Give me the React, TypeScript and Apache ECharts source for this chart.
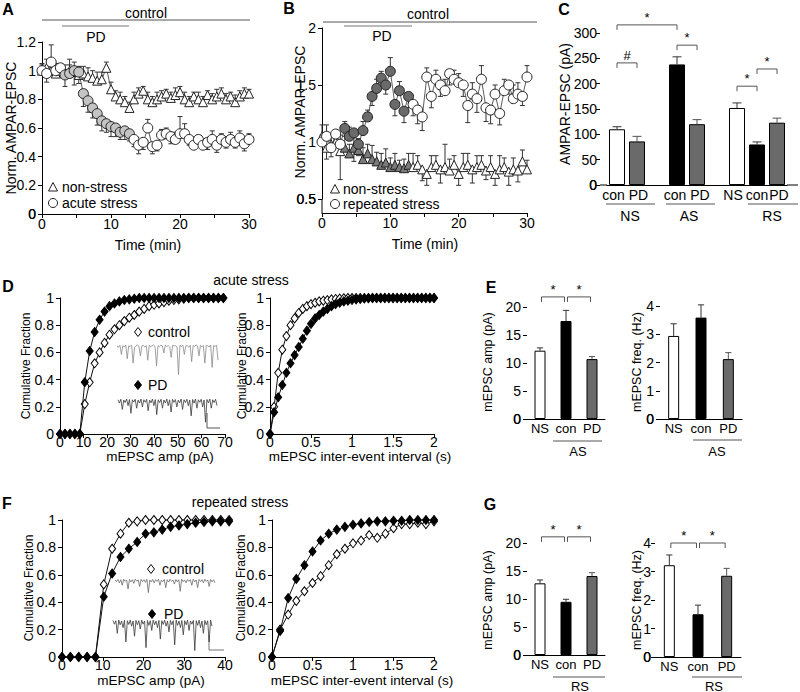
import React, { useEffect, useRef } from "react";
import * as echarts from "echarts";

const FONT = "'Liberation Sans', Arial, Helvetica, sans-serif";

// ---------- Panel A / B : time courses ----------
const timeMin = [0,0.67,1.33,2,2.67,3.33,4,4.67,5.33,6,6.67,7.33,8,8.67,9.33,10,10.67,11.33,12,12.67,13.33,14,14.67,15.33,16,16.67,17.33,18,18.67,19.33,20,20.67,21.33,22,22.67,23.33,24,24.67,25.33,26,26.67,27.33,28,28.67,29.33,30];
const pdWindow = [3, 12.8];

const aNonStress = [1.0,1.02,1.0,0.98,1.0,0.98,1.0,0.99,0.97,0.98,0.96,0.95,0.93,0.94,1.02,0.87,0.82,0.8,0.78,0.74,0.8,0.84,0.86,0.8,0.78,0.8,0.82,0.84,0.81,0.83,0.85,0.8,0.78,0.82,0.8,0.78,0.83,0.8,0.82,0.84,0.8,0.82,0.78,0.82,0.84,0.84];
const aNonStressErr = [0.04,0.06,0.05,0.04,0.05,0.06,0.08,0.07,0.06,0.05,0.06,0.05,0.06,0.05,0.04,0.05,0.04,0.05,0.04,0.04,0.05,0.04,0.03,0.05,0.04,0.05,0.04,0.03,0.04,0.05,0.04,0.05,0.04,0.03,0.05,0.04,0.03,0.04,0.05,0.04,0.04,0.03,0.05,0.04,0.04,0.03];
const aAcute = [1.0,0.98,1.06,1.0,1.02,0.97,0.98,1.0,0.99,0.84,0.79,0.74,0.7,0.65,0.63,0.61,0.6,0.57,0.58,0.56,0.52,0.48,0.5,0.6,0.47,0.48,0.55,0.56,0.54,0.52,0.56,0.56,0.52,0.48,0.52,0.48,0.5,0.52,0.48,0.52,0.5,0.52,0.5,0.53,0.49,0.52];
const aAcuteErr = [0.05,-0.06,0.12,0.05,-0.05,-0.08,0.06,-0.1,-0.08,-0.09,-0.08,-0.07,-0.08,-0.07,-0.06,-0.07,-0.06,-0.05,-0.06,-0.05,-0.05,-0.06,-0.05,0.06,-0.05,-0.04,0.04,0.04,-0.05,0.05,0.12,0.07,-0.04,0.05,-0.05,0.04,-0.05,0.06,-0.05,0.04,-0.04,0.05,-0.04,0.05,-0.05,0.04];

const bNonStress = [1.05,0.95,0.98,1.0,0.92,0.95,0.9,0.95,0.93,0.85,0.9,0.85,0.83,0.8,0.82,0.78,0.8,0.78,0.77,0.8,0.78,0.8,0.76,0.72,0.78,0.8,0.76,0.78,0.75,0.8,0.72,0.78,0.8,0.76,0.78,0.8,0.75,0.78,0.72,0.76,0.78,0.74,0.76,0.75,0.83,0.76];
const bNonStressErr = [0.1,-0.1,0.08,0.06,-0.25,0.1,0.08,-0.12,0.1,0.1,0.08,0.12,0.08,0.1,0.12,0.08,0.1,0.06,0.08,0.1,0.12,0.08,-0.1,-0.1,0.1,0.08,-0.12,0.2,0.1,0.08,-0.1,0.12,0.1,-0.12,0.1,0.08,-0.08,0.1,-0.1,0.12,0.08,-0.12,0.1,-0.1,0.1,0.08];
const bRepeated = [1.0,1.05,0.95,1.07,0.98,1.12,1.05,1.08,0.98,1.1,1.22,1.4,1.47,1.56,1.5,1.62,1.33,1.45,1.27,1.4,1.33,1.28,1.22,1.57,1.4,1.55,1.5,1.45,1.6,1.55,1.52,1.5,1.32,1.42,1.38,1.55,1.3,1.28,1.42,1.25,1.45,1.5,1.38,1.42,1.4,1.57];
const bRepeatedErr = [0.06,0.1,-0.08,-0.08,0.08,0.06,0.08,-0.1,-0.1,0.08,0.06,-0.08,0.08,0.06,-0.08,0.12,-0.1,0.08,-0.1,-0.1,-0.1,-0.12,-0.12,0.08,-0.1,0.08,-0.1,0.1,-0.1,0.08,0.08,-0.1,-0.15,0.1,-0.12,0.12,-0.12,-0.12,0.08,-0.1,0.1,-0.08,0.12,0.1,-0.08,0.1];

// ---------- Panel C ----------
const cCats = ["con", "PD", "", "con", "PD", "", "NS", "con", "PD"];
const cValues = [110, 86, null, 238, 120, null, 152, 80, 123];
const cErr = [5, 10, null, 15, 9, null, 10, 5, 9];
const cKinds = ["ns", "pd", "", "stress", "pd", "", "ns", "stress", "pd"];
const cBrackets = [[0, 3, 316], [0, 1, 241], [3, 4, 276], [6, 7, 195], [7, 8, 229]];
const cBracketLabels = ["*", "#", "*", "*", "*"];

// ---------- Panels E / G ----------
const egCats = ["NS", "con", "PD"];
const egKinds = ["ns", "stress", "pd"];
const eAmp = [12.2, 17.5, 10.7];
const eAmpErr = [0.5, 1.9, 0.45];
const eFreq = [2.94, 3.59, 2.12];
const eFreqErr = [0.43, 0.45, 0.23];
const gAmp = [12.8, 9.5, 14.1];
const gAmpErr = [0.6, 0.45, 0.6];
const gFreq = [3.22, 1.5, 2.85];
const gFreqErr = [0.36, 0.32, 0.26];
const eAmpBrackets = [[0, 1, 21.8], [1, 2, 21.8]];
const gAmpBrackets = [[0, 1, 21.1], [1, 2, 21.1]];
const gFreqBrackets = [[0, 1, 4.0], [1, 2, 4.0]];

// ---------- Panel D : cumulative (acute stress) ----------
const dAmp = [0,2.1,4.2,6.3,8.4,10.5,12.6,14.7,16.8,18.9,21,23.1,25.2,27.3,29.4,31.5,33.6,35.7,37.8,39.9,42,44.1,46.2,48.3,50.4,52.5,54.6,56.7,58.8,60.9,63,65.1,67.2,69.3];
const dAmpCtrl = [0,0,0,0,0,0.22,0.38,0.52,0.6,0.67,0.73,0.77,0.8,0.83,0.855,0.875,0.9,0.92,0.94,0.95,0.96,0.97,0.98,0.985,0.99,0.995,1,1,1,1,1,1,1,1];
const dAmpPD = [0,0,0,0,0,0.38,0.61,0.75,0.84,0.9,0.94,0.96,0.975,0.985,0.99,0.995,1,1,1,1,1,1,1,1,1,1,1,1,1,1,1,1,1,1];
const dIei = [0,0.05,0.1,0.15,0.2,0.25,0.3,0.35,0.4,0.45,0.5,0.55,0.6,0.65,0.7,0.75,0.8,0.85,0.9,0.95,1,1.05,1.1,1.15,1.2,1.25,1.3,1.35,1.4,1.45,1.5,1.55,1.6,1.65,1.7,1.75,1.8,1.85,1.9,1.95,2];
const dIeiCtrl = [0,0.2,0.45,0.62,0.72,0.8,0.85,0.89,0.92,0.94,0.955,0.965,0.975,0.98,0.985,0.99,0.993,0.996,0.998,1,1,1,1,1,1,1,1,1,1,1,1,1,1,1,1,1,1,1,1,1,1];
const dIeiPD = [0,0.16,0.27,0.36,0.45,0.52,0.58,0.64,0.7,0.76,0.81,0.85,0.875,0.9,0.92,0.94,0.955,0.965,0.975,0.98,0.985,0.99,0.993,0.996,0.998,1,1,1,1,1,1,1,1,1,1,1,1,1,1,1,1];

// ---------- Panel F : cumulative (repeated stress) ----------
const fAmp = [0,2.05,4.1,6.15,8.2,10.25,12.3,14.35,16.4,18.45,20.5,22.55,24.6,26.65,28.7,30.75,32.8,34.85,36.9,38.95,41];
const fAmpCtrl = [0,0,0,0,0,0.53,0.79,0.9,0.98,0.99,1,1,1,1,1,1,1,1,1,1,1];
const fAmpPD = [0,0,0,0,0,0.44,0.61,0.73,0.79,0.84,0.9,0.91,0.93,0.95,0.96,0.97,0.98,0.985,0.99,0.99,0.99];
const fIei = [0,0.1,0.2,0.3,0.4,0.5,0.6,0.7,0.8,0.9,1,1.1,1.2,1.3,1.4,1.5,1.6,1.7,1.8,1.9,2];
const fIeiCtrl = [0,0.2,0.31,0.41,0.48,0.54,0.59,0.67,0.75,0.79,0.83,0.85,0.89,0.87,0.9,0.94,0.97,0.97,0.98,0.97,0.99];
const fIeiPD = [0,0.19,0.43,0.57,0.67,0.77,0.85,0.9,0.93,0.95,0.965,0.975,0.985,0.99,0.99,0.995,0.995,1,1,1,1];

// ---------- example mEPSC traces ----------
const traceDCtrl = [0,-0.05,0.02,-0.3,0.01,-0.04,0.03,-0.45,0,-0.02,0.02,-0.6,-0.05,0.01,0.03,-0.02,-0.35,0,0.02,-0.04,0.01,-0.5,0.02,-0.03,0,0.03,-0.02,-0.7,0.01,-0.03,0.02,0,-0.25,0.03,-0.02,0.01,-0.04,-0.4,0.02,0,0.01,-0.03,-1.0,0.02,-0.02,0.03,-0.3,0,0.01,-0.05,0.02,-0.55,0.01,-0.02,0.03,0,-0.35,0.02,-0.03,0.01,-0.6,0.02,0,-0.04,0.03,-0.75,0.01,-0.02,0.02,-0.5];
const traceDPD = [0.03,-0.1,0.05,-0.35,0.02,-0.08,0.06,-0.2,0.04,-0.5,0.03,-0.06,0.05,-0.3,0.02,-0.1,0.06,-0.25,0.03,-0.07,0.05,-0.4,0.02,-0.09,0.06,-0.2,0.04,-0.55,0.03,-0.08,0.05,-0.3,0.02,-0.1,0.06,-0.2,0.03,-0.45,0.05,-0.07,0.04,-0.25,0.02,-0.09,0.06,-0.35,0.03,-0.08,0.05,-0.2,0.02,-0.6,0.04,-0.1,0.06,-0.3,0.03,-0.07,0.05,-0.25,0.02,-0.85,0.04,-0.09,0.06,-0.3,0.03,-0.08,0.05,-0.2];
const traceFCtrl = [0.02,-0.05,0.04,-0.1,0.03,-0.2,0.05,-0.04,0.02,-0.35,0.04,-0.06,0.03,-0.12,0.05,-0.03,0.02,-0.25,0.04,-0.05,0.03,-0.08,0.05,-0.5,0.02,-0.06,0.04,-0.1,0.03,-0.04,0.05,-0.2,0.02,-0.05,0.04,-0.3,0.03,-0.07,0.05,-0.04,0.02,-0.15,0.04,-0.06,0.03,-0.45,0.05,-0.05,0.02,-0.1,0.04,-0.04,0.03,-0.2,0.05,-0.06,0.02,-0.3,0.04,-0.05,0.03,-0.1,0.05,-0.04,0.02,-0.25,0.04,-0.06,0.03,-0.1];
const traceFPD = [0.05,-0.08,0.04,-0.4,0.06,-0.1,0.03,-0.2,0.05,-0.7,0.04,-0.09,0.06,-0.15,0.03,-0.5,0.05,-0.1,0.04,-0.25,0.06,-0.08,0.03,-0.9,0.05,-0.12,0.04,-0.3,0.06,-0.1,0.03,-0.2,0.05,-0.6,0.04,-0.09,0.06,-0.15,0.03,-0.35,0.05,-0.1,0.04,-0.8,0.06,-0.12,0.03,-0.2,0.05,-0.45,0.04,-0.1,0.06,-0.3,0.03,-0.08,0.05,-1.0,0.04,-0.12,0.06,-0.2,0.03,-0.4,0.05,-0.1,0.04,-0.7,0.06,-0.15];

// ---------- styling ----------
const FILL: Record<string, string> = { ns: "#ffffff", stress: "#000000", pd: "#6a6a6a" };
const ERR_COLOR: Record<string, string> = { ns: "#333", stress: "#333", pd: "#555" };
// horizontal nudges (px) of the C category labels, to mimic the reference spacing
const C_LABEL_NUDGE = [-3.5, 1.5, 0, -2, 3, 0, -4, 0, 2];

const zip = (xs: number[], ys: number[]) => xs.map((x, i) => [x, ys[i]]);

function errRender(color: string, cap: number) {
  return (params: any, api: any) => {
    const x = api.value(0), y = api.value(1), e = api.value(2);
    if (isNaN(y) || isNaN(e)) return null;
    const p0 = api.coord([x, y]);
    const p1 = api.coord([x, y + e]);
    return {
      type: "group",
      children: [
        { type: "line", shape: { x1: p0[0], y1: p0[1], x2: p1[0], y2: p1[1] }, style: { stroke: color, lineWidth: 1 } },
        { type: "line", shape: { x1: p1[0] - cap, y1: p1[1], x2: p1[0] + cap, y2: p1[1] }, style: { stroke: color, lineWidth: 1 } },
      ],
    };
  };
}

function bracketRender(labels: string[], gap: number, fontSize: number) {
  return (params: any, api: any) => {
    const a = api.coord([api.value(0), api.value(2)]);
    const b = api.coord([api.value(1), api.value(2)]);
    const x0 = a[0] + gap, x1 = b[0] - gap, y = a[1];
    return {
      type: "group",
      children: [
        { type: "polyline", shape: { points: [[x0, y + 5], [x0, y], [x1, y], [x1, y + 5]] }, style: { stroke: "#555", fill: null, lineWidth: 1 } },
        { type: "text", style: { text: labels[params.dataIndex], x: (x0 + x1) / 2, y: y - 1, align: "center", verticalAlign: "bottom", fontSize, fontFamily: FONT, fill: "#000" } },
      ],
    };
  };
}

function axisCommon(gridIndex: number, o: any) {
  return {
    gridIndex,
    axisLine: { lineStyle: { color: "#000", width: 1 } },
    axisTick: { show: true, length: 4, lineStyle: { color: "#000" }, ...(o.tick || {}) },
    axisLabel: { color: "#000", fontSize: 14, fontFamily: FONT, margin: 3, showMinLabel: true, showMaxLabel: true, hideOverlap: false, ...(o.label || {}) },
    splitLine: { show: false },
    ...o.rest,
  };
}

function T(x: number, y: number, text: string, size: number, extra: any = {}) {
  return {
    type: "text", x, y, silent: true, rotation: extra.rotation || 0,
    style: { text, fontSize: size, fontFamily: FONT, fontWeight: extra.bold ? "bold" : "normal", fill: extra.fill || "#000", align: extra.align || "center", verticalAlign: "middle" },
  };
}
function L(x1: number, y1: number, x2: number, y2: number, color = "#000") {
  return { type: "line", silent: true, shape: { x1, y1, x2, y2 }, style: { stroke: color, lineWidth: 1 } };
}
function diamond(cx: number, cy: number, filled: boolean) {
  return { type: "polygon", silent: true, shape: { points: [[cx, cy - 4.5], [cx + 3.5, cy], [cx, cy + 4.5], [cx - 3.5, cy]] }, style: { fill: filled ? "#000" : "#fff", stroke: "#000", lineWidth: 1 } };
}
const R = Math.PI / 2;

function buildOption() {
  const grids = [
    { left: 42, top: 42, width: 207, height: 172 },   // 0 A
    { left: 322, top: 28, width: 205, height: 171 },  // 1 B (y 0.5..2)
    { left: 607, top: 33, width: 180, height: 152 },  // 2 C
    { left: 60, top: 298, width: 165, height: 136 },  // 3 D left
    { left: 270, top: 298, width: 164, height: 136 }, // 4 D right
    { left: 527, top: 307, width: 78, height: 112 },  // 5 E left
    { left: 660, top: 306, width: 82, height: 113 },  // 6 E right
    { left: 62, top: 520, width: 163, height: 137 },  // 7 F left
    { left: 272, top: 520, width: 162, height: 137 }, // 8 F right
    { left: 527, top: 543, width: 78, height: 112 },  // 9 G left
    { left: 655, top: 543, width: 86, height: 114 },  // 10 G right
    { left: 117, top: 343, width: 101, height: 33 },  // 11 D trace ctrl
    { left: 118, top: 398, width: 99, height: 28 },   // 12 D trace PD
    { left: 115, top: 578, width: 100, height: 17 },  // 13 F trace ctrl
    { left: 113, top: 619, width: 99, height: 33 },   // 14 F trace PD
  ];

  const cRich: any = {};
  C_LABEL_NUDGE.forEach((n, i) => {
    cRich["s" + i] = { fontSize: 14, fontFamily: FONT, color: "#000", padding: [0, n < 0 ? -2 * n : 0, 0, n > 0 ? 2 * n : 0] };
  });
  const cFormatter = (v: string, i: number) => (v ? `{s${i}|${v}}` : "");

  const timeX = (g: number, offset = 0) => axisCommon(g, { rest: { type: "value", min: 0, max: 30, interval: 5, offset }, label: { formatter: (v: number) => (v % 10 === 0 ? String(v) : "") } });
  const catX = (g: number, cats: string[], size: number, extra: any = {}) => axisCommon(g, { rest: { type: "category", data: cats }, tick: { show: false }, label: { fontSize: size, margin: 3, interval: 0, ...extra } });
  const valY = (g: number, min: number, max: number, interval: number, margin = 6, offset = 0) => axisCommon(g, { rest: { type: "value", min, max, interval, offset }, label: { margin } });
  const hiddenX = (g: number, n: number) => ({ gridIndex: g, type: "value", min: 0, max: n - 1, show: false });
  const hiddenY = (g: number, min: number, max: number) => ({ gridIndex: g, type: "value", min, max, show: false });

  const xAxis = [
    timeX(0),
    timeX(1, 14),
    catX(2, cCats, 14, { formatter: cFormatter, rich: cRich }),
    axisCommon(3, { rest: { type: "value", min: 0, max: 70, interval: 10 }, label: { margin: 1 } }),
    axisCommon(4, { rest: { type: "value", min: 0, max: 2, interval: 0.5 }, label: { margin: 1 } }),
    catX(5, egCats, 13),
    catX(6, egCats, 13),
    axisCommon(7, { rest: { type: "value", min: 0, max: 40, interval: 10 }, label: { margin: 1 } }),
    axisCommon(8, { rest: { type: "value", min: 0, max: 2, interval: 0.5 }, label: { margin: 1 } }),
    catX(9, egCats, 13),
    catX(10, egCats, 13),
    hiddenX(11, traceDCtrl.length),
    hiddenX(12, traceDPD.length),
    hiddenX(13, traceFCtrl.length),
    hiddenX(14, traceFPD.length),
  ];
  const yAxis = [
    valY(0, 0, 1.2, 0.2),
    valY(1, 0.5, 2, 0.5),
    valY(2, 0, 300, 50, 3, 7),
    valY(3, 0, 1, 0.2),
    valY(4, 0, 1, 0.2),
    valY(5, 0, 20, 5),
    valY(6, 0, 4, 1),
    valY(7, 0, 1, 0.2),
    valY(8, 0, 1, 0.2),
    valY(9, 0, 20, 5),
    valY(10, 0, 4, 1, 4),
    hiddenY(11, -1.05, 0.1),
    hiddenY(12, -1.0, 0.1),
    hiddenY(13, -0.6, 0.1),
    hiddenY(14, -1.05, 0.1),
  ];

  const inPD = (t: number) => t >= pdWindow[0] && t <= pdWindow[1];
  const series: any[] = [];

  const timeCourse = (g: number, ys: number[], errs: number[], symbol: string, pdFill: string, size: number) => {
    series.push({
      type: "custom", xAxisIndex: g, yAxisIndex: g, z: 1, silent: true, clip: false,
      renderItem: errRender("#333", 2.5),
      encode: { x: 0, y: 1 },
      data: timeMin.map((t, i) => [t, ys[i], errs[i]]),
    });
    series.push({
      type: "line", xAxisIndex: g, yAxisIndex: g, z: 3, silent: true,
      symbol, symbolSize: size, showAllSymbol: true,
      lineStyle: { color: "#333", width: 0.8 },
      data: timeMin.map((t, i) => ({ value: [t, ys[i]], itemStyle: { color: inPD(t) ? pdFill : "#fff", borderColor: "#222", borderWidth: 1 } })),
    });
  };
  timeCourse(0, aNonStress, aNonStressErr, "triangle", "#fff", 9);
  timeCourse(0, aAcute, aAcuteErr, "circle", "#c4c4c4", 10);
  timeCourse(1, bNonStress, bNonStressErr, "triangle", "#7a7a7a", 9);
  timeCourse(1, bRepeated, bRepeatedErr, "circle", "#6a6a6a", 10);

  const barPanel = (g: number, values: (number | null)[], errs: (number | null)[], kinds: string[], barWidth: number) => {
    series.push({
      type: "bar", xAxisIndex: g, yAxisIndex: g, barWidth, silent: true, z: 2,
      data: values.map((v, i) => (v === null ? "-" : { value: v, itemStyle: { color: FILL[kinds[i]], borderColor: "#000", borderWidth: 1 } })),
    });
    values.forEach((v, i) => {
      if (v === null) return;
      series.push({
        type: "custom", xAxisIndex: g, yAxisIndex: g, z: 3, silent: true,
        renderItem: errRender(ERR_COLOR[kinds[i]], barWidth * 0.28),
        encode: { x: 0, y: 1 },
        data: [[i, v, errs[i]]],
      });
    });
  };
  barPanel(2, cValues, cErr, cKinds, 16);
  barPanel(5, eAmp, eAmpErr, egKinds, 11);
  barPanel(6, eFreq, eFreqErr, egKinds, 11);
  barPanel(9, gAmp, gAmpErr, egKinds, 11);
  barPanel(10, gFreq, gFreqErr, egKinds, 11);

  const brackets = (g: number, data: number[][], labels: string[], gap: number) => {
    series.push({
      type: "custom", xAxisIndex: g, yAxisIndex: g, z: 4, silent: true, clip: false,
      renderItem: bracketRender(labels, gap, 13),
      encode: { x: 0, y: 2 },
      data,
    });
  };
  brackets(2, cBrackets, cBracketLabels, 0);
  brackets(5, eAmpBrackets, ["*", "*"], 1.5);
  brackets(9, gAmpBrackets, ["*", "*"], 1.5);
  brackets(10, gFreqBrackets, ["*", "*"], 1.5);

  const cumul = (g: number, xs: number[], ys: number[], filled: boolean) => {
    series.push({
      type: "line", xAxisIndex: g, yAxisIndex: g, silent: true, clip: false, z: filled ? 4 : 3,
      symbol: "diamond", symbolSize: [7, 9], showAllSymbol: true,
      itemStyle: { color: filled ? "#000" : "#fff", borderColor: "#000", borderWidth: 1 },
      lineStyle: { color: "#111", width: 1 },
      data: zip(xs, ys),
    });
  };
  cumul(3, dAmp, dAmpCtrl, false);
  cumul(3, dAmp, dAmpPD, true);
  cumul(4, dIei, dIeiCtrl, false);
  cumul(4, dIei, dIeiPD, true);
  cumul(7, fAmp, fAmpCtrl, false);
  cumul(7, fAmp, fAmpPD, true);
  cumul(8, fIei, fIeiCtrl, false);
  cumul(8, fIei, fIeiPD, true);

  const trace = (g: number, ys: number[], color: string) => {
    series.push({
      type: "line", xAxisIndex: g, yAxisIndex: g, silent: true, symbol: "none",
      lineStyle: { color, width: 0.8 },
      data: ys.map((v, i) => [i, v]),
    });
  };
  trace(11, traceDCtrl, "#8a8a8a");
  trace(12, traceDPD, "#3a3a3a");
  trace(13, traceFCtrl, "#6a6a6a");
  trace(14, traceFPD, "#3a3a3a");

  const graphic: any[] = [
    // panel letters
    T(8, 9, "A", 16, { bold: true }), T(289, 8, "B", 16, { bold: true }), T(564, 9, "C", 16, { bold: true }),
    T(8, 286, "D", 16, { bold: true }), T(491, 287, "E", 16, { bold: true }),
    T(7, 503, "F", 16, { bold: true }), T(490, 504, "G", 16, { bold: true }),
    // lowest y tick labels that ECharts suppresses at the axis origin here
    T(36, 214, "0", 14, { align: "right" }),
    T(316, 199, "0.5", 14, { align: "right" }),
    T(597, 185, "0", 14, { align: "right" }),
    T(521, 419, "0", 14, { align: "right" }),
    T(654, 419, "0", 14, { align: "right" }),
    T(521, 655, "0", 14, { align: "right" }),
    T(651, 657, "0", 14, { align: "right" }),
    // A header
    L(42, 20, 250, 20, "#555"), T(146, 13, "control", 14),
    L(62, 26, 129, 26, "#777"), T(96, 37, "PD", 14),
    // B header
    L(323, 22, 537, 22, "#555"), T(428, 14, "control", 14),
    L(344, 26, 412, 26, "#777"), T(382, 36, "PD", 14),
    // B y-axis extension down to the offset x-axis
    L(322, 199, 322, 213, "#000"),
    // C x-axis extensions
    L(600, 185, 607, 185, "#000"), L(787, 185, 798, 185, "#000"),
    // A legend
    { type: "polygon", silent: true, shape: { points: [[53, 182.5], [57.5, 191], [48.5, 191]] }, style: { fill: "#fff", stroke: "#222", lineWidth: 1 } },
    T(62, 187, "non-stress", 14, { align: "left" }),
    { type: "circle", silent: true, shape: { cx: 53, cy: 203, r: 4.5 }, style: { fill: "#fff", stroke: "#222", lineWidth: 1 } },
    T(62, 203, "acute stress", 14, { align: "left" }),
    // B legend
    { type: "polygon", silent: true, shape: { points: [[335, 184.5], [339.5, 193], [330.5, 193]] }, style: { fill: "#fff", stroke: "#222", lineWidth: 1 } },
    T(343, 189, "non-stress", 14, { align: "left" }),
    { type: "circle", silent: true, shape: { cx: 335, cy: 204, r: 4.5 }, style: { fill: "#fff", stroke: "#222", lineWidth: 1 } },
    T(343, 204, "repeated stress", 14, { align: "left" }),
    // axis titles
    T(11, 128, "Norm. AMPAR-EPSC", 14, { rotation: R }),
    T(300, 112, "Norm. AMPAR-EPSC", 14, { rotation: R }),
    T(565, 104, "AMPAR-EPSC (pA)", 14, { rotation: R }),
    T(148, 245, "Time (min)", 14),
    T(425, 244, "Time (min)", 14),
    T(26, 366, "Cumulative Fraction", 12, { rotation: R }),
    T(242, 366, "Cumulative Fraction", 12, { rotation: R }),
    T(29, 588, "Cumulative Fraction", 12, { rotation: R }),
    T(241, 588, "Cumulative Fraction", 12, { rotation: R }),
    T(160, 456, "mEPSC amp (pA)", 13.5),
    T(360, 456, "mEPSC inter-event interval (s)", 13.5),
    T(151, 680, "mEPSC amp (pA)", 13.5),
    T(362, 680, "mEPSC inter-event interval (s)", 13.5),
    T(488, 362, "mEPSC amp (pA)", 12.5, { rotation: R }),
    T(637, 362, "mEPSC freq. (Hz)", 12.5, { rotation: R }),
    T(488, 600, "mEPSC amp (pA)", 12.5, { rotation: R }),
    T(637, 600, "mEPSC freq. (Hz)", 12.5, { rotation: R }),
    // D / F titles
    T(251, 280, "acute stress", 14),
    T(240, 502, "repeated stress", 14),
    // D legend
    diamond(138, 332, false), T(148, 332, "control", 14, { align: "left" }),
    diamond(138, 385, true), T(148, 385, "PD", 14, { align: "left" }),
    // F legend
    diamond(151, 569, false), T(162, 569, "control", 14, { align: "left" }),
    diamond(152, 614, true), T(164, 614, "PD", 14, { align: "left" }),
    // scale bars
    { type: "polyline", silent: true, shape: { points: [[207, 413], [207, 428], [220, 428]] }, style: { stroke: "#555", fill: null, lineWidth: 1 } },
    { type: "polyline", silent: true, shape: { points: [[209, 635], [209, 650], [224, 650]] }, style: { stroke: "#777", fill: null, lineWidth: 1 } },
    // C groups
    L(606, 204, 655, 204, "#555"), T(630, 216, "NS", 14),
    L(666, 204, 715, 204, "#555"), T(689, 216, "AS", 14),
    L(748, 204, 798, 204, "#555"), T(772, 216, "RS", 14),
    // E groups
    L(553, 441, 602, 441, "#555"), T(578, 451, "AS", 13),
    L(693, 440, 742, 440, "#555"), T(717, 451, "AS", 13),
    // G groups
    L(553, 677, 605, 677, "#555"), T(580, 686, "RS", 13),
    L(692, 677, 742, 677, "#555"), T(714, 686, "RS", 13),
  ];

  return {
    animation: false,
    backgroundColor: "#fff",
    textStyle: { fontFamily: FONT },
    grid: grids,
    xAxis,
    yAxis,
    series,
    graphic,
  };
}

export default function App() {
  const ref = useRef<HTMLDivElement>(null);
  useEffect(() => {
    const chart = echarts.init(ref.current as HTMLDivElement, null, { renderer: "svg" });
    chart.setOption(buildOption() as any);
    return () => chart.dispose();
  }, []);
  return <div ref={ref} style={{ position: "absolute", left: 0, top: 0, width: 800, height: 692, background: "#fff" }} />;
}
